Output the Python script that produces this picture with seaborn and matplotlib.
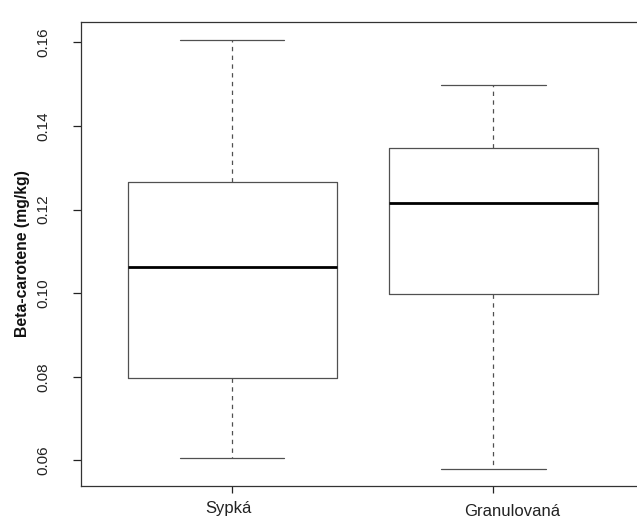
import matplotlib
matplotlib.use("Agg")
import matplotlib.pyplot as plt
import matplotlib.transforms as mtransforms
import numpy as np
import pandas as pd
import seaborn as sns

# Five-number summaries (min, Q1, median, Q3, max) of beta-carotene content
categories = ["Sypká", "Granulovaná"]
sypka_values = [0.0606, 0.0798, 0.1062, 0.1265, 0.1606]
granulovana_values = [0.0580, 0.0999, 0.1215, 0.1348, 0.1499]
y_ticks = [0.06, 0.08, 0.10, 0.12, 0.14, 0.16]
y_label = "Beta-carotene (mg/kg)"

df = pd.DataFrame({
    "typ": [categories[0]] * len(sypka_values) + [categories[1]] * len(granulovana_values),
    "beta": sypka_values + granulovana_values,
})

sns.set_style("ticks")
plt.rcParams["font.family"] = ["Liberation Sans", "DejaVu Sans"]

W, H = 637, 525
fig = plt.figure(figsize=(W / 100, H / 100), dpi=100)
ax = fig.add_axes([80.5 / W, 1 - 486 / H, (645 - 80.5) / W, (486 - 22) / H])

edge = "#505050"
sns.boxplot(
    data=df, x="typ", y="beta", order=categories, ax=ax,
    fill=False, color=edge, width=0.8, whis=(0, 100), linewidth=0.9,
    boxprops=dict(color=edge, linewidth=0.9),
    medianprops=dict(color="black", linewidth=2.0),
    whiskerprops=dict(color=edge, linewidth=0.9, linestyle=(0, (3.5, 3.5))),
    capprops=dict(color=edge, linewidth=0.9),
)

ax.set_xlim(-0.58, 1.58)
ax.set_ylim(0.05385, 0.16486)
ax.set_yticks(y_ticks)
ax.set_yticklabels([f"{t:.2f}" for t in y_ticks])
ax.tick_params(axis="y", labelrotation=90, length=6, width=0.9, pad=15.5,
               labelsize=11, colors="#222222")
ax.tick_params(axis="x", length=5, width=0.9, pad=5.5, labelsize=12, colors="#222222")
for lab in ax.get_yticklabels():
    lab.set_va("center")

# small per-label nudges of the category names (in pixels)
label_shift = {"Sypká": (-4, 0), "Granulovaná": (19, -3)}
for lab in ax.get_xticklabels():
    dx, dy = label_shift.get(lab.get_text(), (0, 0))
    lab.set_transform(lab.get_transform() +
                      mtransforms.ScaledTranslation(dx / 100, dy / 100, fig.dpi_scale_trans))

ax.set_xlabel("")
ax.set_ylabel(y_label, fontsize=11.3, fontweight="bold", labelpad=5, color="#111111")

for side in ["left", "bottom", "top", "right"]:
    ax.spines[side].set_visible(True)
    ax.spines[side].set_color("#333333")
    ax.spines[side].set_linewidth(0.9)

fig.savefig("out.png", dpi=100)
